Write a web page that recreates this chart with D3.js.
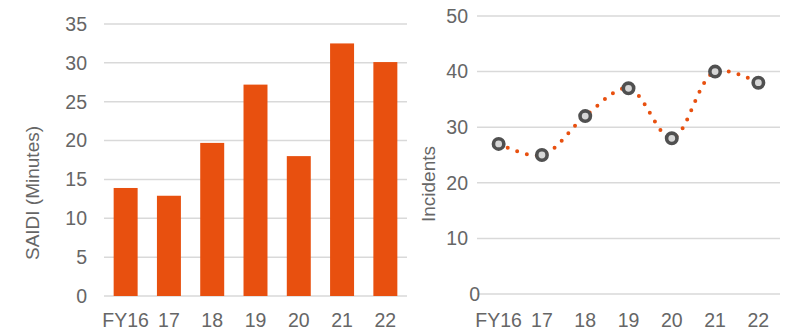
<!DOCTYPE html>
<html><head><meta charset="utf-8">
<script src="https://cdn.jsdelivr.net/npm/d3@7"></script>
<style>body{margin:0;background:#fff;} svg text{font-family:"Liberation Sans",Arial,sans-serif;fill:#666666;}</style>
</head><body>
<svg id="c" width="785" height="331"></svg>
<script>
const categories = ["FY16","17","18","19","20","21","22"];
const saidi = [13.9, 12.9, 19.7, 27.2, 18.0, 32.5, 30.1];
const incidents = [27, 25, 32, 37, 28, 40, 38];
const saidiTicks = [0,5,10,15,20,25,30,35];
const incTicks = [0,10,20,30,40,50];

const svg = d3.select("#c");
const orange = "#E8500F";
const grid = "#d9d9d9";
const fs = 19.5;

// Left chart
const xL = d3.scaleBand().domain(categories).range([104, 407]).paddingInner(0.446).paddingOuter(0.223);
const yL = d3.scaleLinear().domain([0, 35]).range([296, 24]);
const gL = svg.append("g");
gL.selectAll("line.g").data(saidiTicks).join("line")
  .attr("x1", 104).attr("x2", 407).attr("y1", d => yL(d)).attr("y2", d => yL(d))
  .attr("stroke", grid).attr("stroke-width", 1.5);
gL.selectAll("text.t").data(saidiTicks).join("text")
  .attr("x", 87).attr("y", d => yL(d)).attr("dy", "0.35em").attr("text-anchor", "end")
  .attr("font-size", fs).text(d => d);
gL.selectAll("rect").data(saidi).join("rect")
  .attr("x", (d, i) => xL(categories[i])).attr("width", xL.bandwidth())
  .attr("y", d => yL(d)).attr("height", d => yL(0) - yL(d)).attr("fill", orange);
gL.selectAll("text.x").data(categories).join("text")
  .attr("x", d => xL(d) + xL.bandwidth() / 2).attr("y", 320).attr("dy", "0.35em")
  .attr("text-anchor", "middle").attr("font-size", fs).text(d => d);
gL.append("text").attr("transform", "translate(32,193) rotate(-90)")
  .attr("text-anchor", "middle").attr("dy", "0.35em").attr("font-size", 19).text("SAIDI (Minutes)");

// Right chart
const xR = d3.scalePoint().domain(categories).range([477, 780]).padding(0.5);
const yR = d3.scaleLinear().domain([0, 50]).range([294, 16]);
const gR = svg.append("g");
gR.selectAll("line.g").data(incTicks).join("line")
  .attr("x1", 477).attr("x2", 780).attr("y1", d => yR(d)).attr("y2", d => yR(d))
  .attr("stroke", grid).attr("stroke-width", 1.5);
gR.selectAll("text.t").data(incTicks).join("text")
  .attr("x", d => d === 0 ? 480 : 468).attr("y", d => yR(d)).attr("dy", "0.35em").attr("text-anchor", "end")
  .attr("font-size", fs).text(d => d);
const line = d3.line().x((d, i) => xR(categories[i])).y(d => yR(d)).curve(d3.curveCatmullRom.alpha(0.5));
gR.append("path").datum(incidents).attr("d", line).attr("fill", "none")
  .attr("stroke", orange).attr("stroke-width", 4).attr("stroke-linecap", "round")
  .attr("stroke-dasharray", "0 10");
gR.selectAll("circle").data(incidents).join("circle")
  .attr("cx", (d, i) => xR(categories[i])).attr("cy", d => yR(d)).attr("r", 5.2)
  .attr("fill", "#d6d6d6").attr("stroke", "#505050").attr("stroke-width", 3.6);
gR.selectAll("text.x").data(categories).join("text")
  .attr("x", d => xR(d)).attr("y", 320).attr("dy", "0.35em")
  .attr("text-anchor", "middle").attr("font-size", fs).text(d => d);
gR.append("text").attr("transform", "translate(428,184) rotate(-90)")
  .attr("text-anchor", "middle").attr("dy", "0.35em").attr("font-size", 19).text("Incidents");
</script>
</body></html>
